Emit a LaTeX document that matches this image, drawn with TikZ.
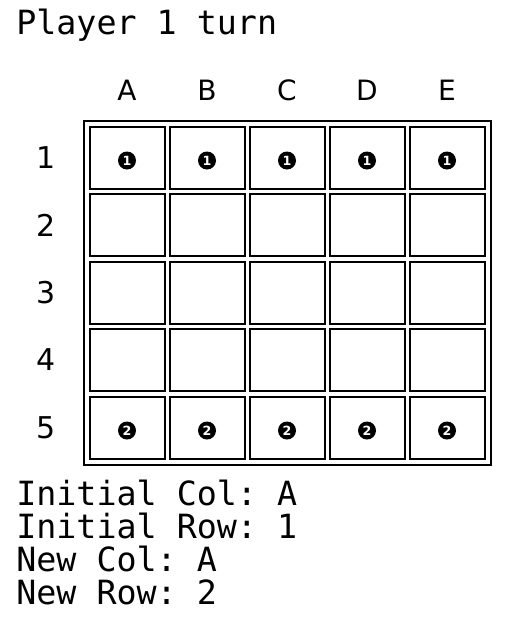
\documentclass[tikz,border=0pt]{standalone}
\usepackage{fontspec}
\setmonofont{DejaVu Sans Mono}
\newfontfamily\labelfont{DejaVu Sans}

\begin{document}
\begin{tikzpicture}[x=0.75pt,y=-0.75pt]
      \tikzstyle{msg}=[anchor=base west,inner sep=0pt,font=\ttfamily\fontsize{25pt}{25pt}\selectfont]
      \tikzstyle{collabel}=[inner sep=0pt,font=\labelfont\fontsize{21pt}{21pt}\selectfont]
      \tikzstyle{rowlabel}=[inner sep=0pt,font=\labelfont\fontsize{22.5pt}{22.5pt}\selectfont]
      \tikzstyle{cell}=[draw,line width=1.5pt,minimum width=56.25pt,minimum height=46.5pt,inner sep=0pt]
      \tikzstyle{frame}=[draw,line width=1.5pt]
      \tikzstyle{piece}=[circle,fill=black,text=white,minimum size=13.5pt,inner sep=0pt,font=\labelfont\bfseries\fontsize{9.5pt}{9.5pt}\selectfont]
      \useasboundingbox (0,0) rectangle (508,629);
      \node[msg] (turn) at (16,34) {Player 1 turn};
      % board
      \foreach \c [count=\i] in {A,B,C,D,E}
        \node[collabel] (col\i) at ({127+80*(\i-1)},90) {\c};
      \foreach \j in {1,...,5}
        \node[rowlabel] (row\j) at (46,{157.5+67.5*(\j-1)}) {\j};
      \foreach \i in {1,...,5}
        \foreach \j in {1,...,5}
          \node[cell] (c\i\j) at ({127+80*(\i-1)},{157.5+67.5*(\j-1)}) {};
      \draw[frame] ([shift={(-5,-5)}]c11.north west) rectangle ([shift={(5,5)}]c55.south east);
      \foreach \i in {1,...,5} {
        \node[piece] (p1\i) at ([yshift=-2.25pt]c\i1.center) {1};
        \node[piece] (p2\i) at ([yshift=-2.25pt]c\i5.center) {2};
      }
      % move prompt
      \foreach \t [count=\k] in {Initial Col: A,Initial Row: 1,New Col: A,New Row: 2}
        \node[msg] (line\k) at (16,{505+33.3*(\k-1)}) {\t};
\end{tikzpicture}
\end{document}
